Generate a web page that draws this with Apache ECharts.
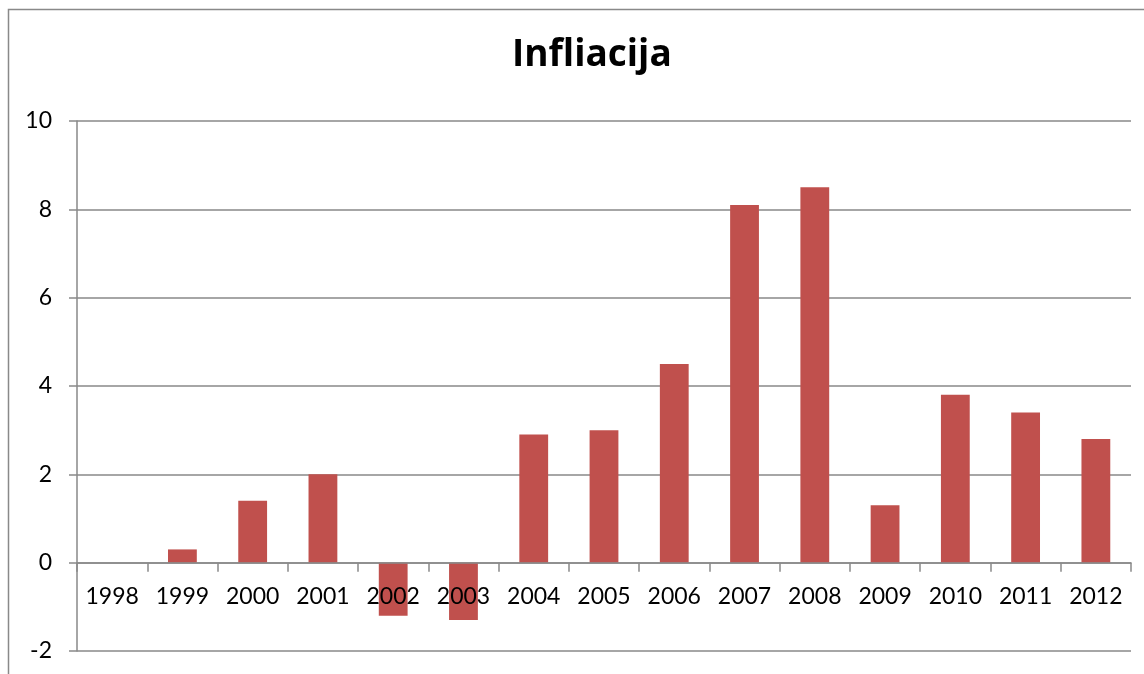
<!DOCTYPE html>
<html>
<head>
<meta charset="utf-8">
<script src="https://cdn.jsdelivr.net/npm/echarts@6/dist/echarts.min.js"></script>
<style>
  html, body { margin: 0; padding: 0; background: #fff; }
  #chart { width: 1144px; height: 674px; }
</style>
</head>
<body>
<div id="chart"></div>
<script>
// data
const years = ["1998", "1999", "2000", "2001", "2002", "2003", "2004", "2005",
  "2006", "2007", "2008", "2009", "2010", "2011", "2012"];
const inflation = [0, 0.3, 1.4, 2.0, -1.2, -1.3, 2.9, 3.0, 4.5, 8.1, 8.5, 1.3, 3.8, 3.4, 2.8];
const yMin = -2;
const yMax = 10;

const chart = echarts.init(document.getElementById("chart"));
const gray = "#898989";

const gridTop = 121;
const gridBottom = 23;
const gridHeight = 674 - gridTop - gridBottom;
// move the category axis up onto the zero line (labels stay right under it)
const zeroOffset = -gridHeight * (0 - yMin) / (yMax - yMin);

chart.setOption({
  backgroundColor: "#fff",
  animation: false,
  textStyle: { fontFamily: "Lato" },
  title: {
    text: "Infliacija",
    left: 507,
    top: 32,
    textStyle: { fontFamily: "Open Sans", fontSize: 37, fontWeight: "bold", color: "#000" },
  },
  graphic: [
    {
      // outer chart frame
      type: "rect",
      shape: { x: 8.5, y: 9.5, width: 1200, height: 700 },
      style: { fill: null, stroke: gray, lineWidth: 1.5 },
      silent: true,
    },
  ],
  grid: {
    left: 77,
    right: 13,
    top: gridTop,
    bottom: gridBottom,
    outerBoundsMode: "none",
    containLabel: false,
  },
  xAxis: {
    type: "category",
    data: years,
    position: "bottom",
    offset: zeroOffset,
    z: 5,
    axisLine: { onZero: false, lineStyle: { color: gray, width: 1.5 } },
    axisTick: { show: true, length: 9, lineStyle: { color: gray, width: 1.5 } },
    axisLabel: { color: "#000", fontSize: 23, margin: 22, fontFamily: "Lato" },
  },
  yAxis: {
    type: "value",
    min: yMin,
    max: yMax,
    interval: 2,
    axisLine: { show: true, lineStyle: { color: gray, width: 1.5 } },
    axisTick: { show: true, length: 8, lineStyle: { color: gray, width: 1.5 } },
    axisLabel: { color: "#000", fontSize: 23, margin: 25, fontFamily: "Lato" },
    splitLine: { lineStyle: { color: gray, width: 1.5 } },
  },
  series: [
    {
      name: "Infliacija",
      type: "bar",
      data: inflation,
      barWidth: "41%",
      itemStyle: { color: "#C0504D" },
    },
  ],
});
</script>
</body>
</html>
